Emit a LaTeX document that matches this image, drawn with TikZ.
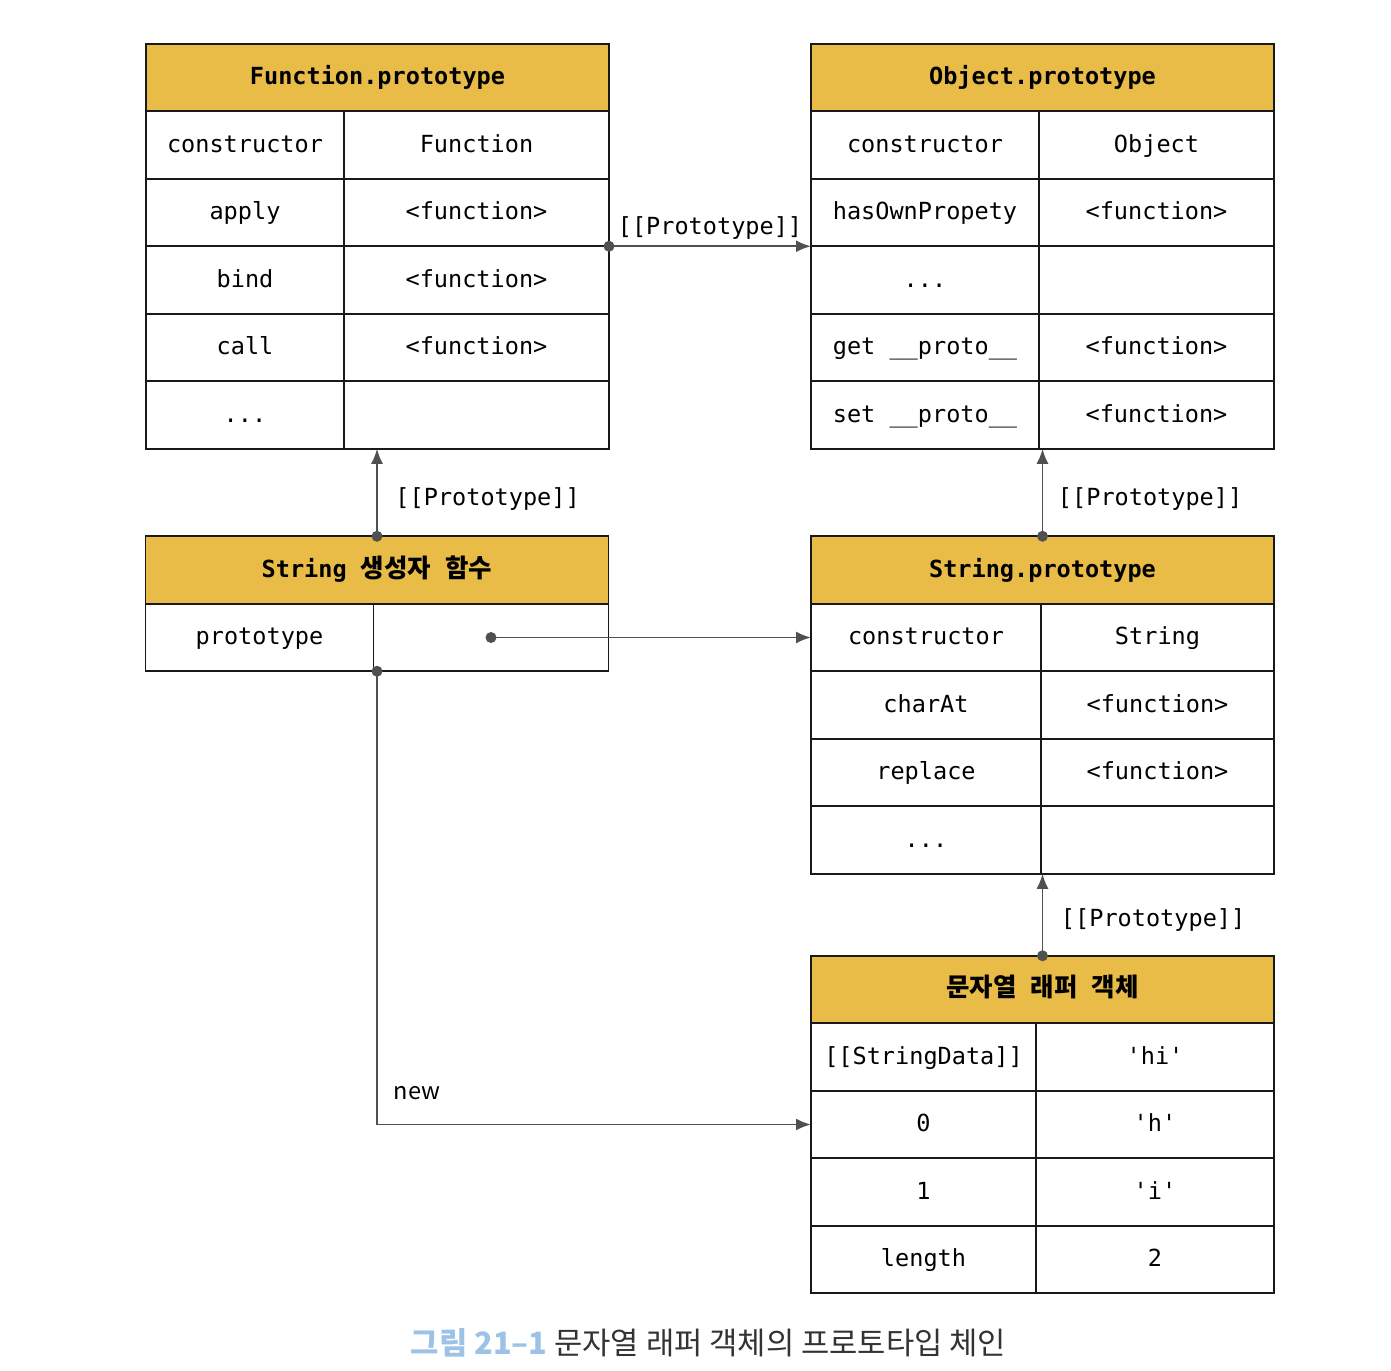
\documentclass[tikz,border=0pt]{standalone}
\usepackage{fontspec}
\setmonofont{DejaVu Sans Mono}
\newfontfamily\krfont{Noto Sans CJK KR}
\usetikzlibrary{arrows.meta, positioning}

\definecolor{hdrgold}{HTML}{E9BC48}
\definecolor{linkgray}{HTML}{505050}
\definecolor{capblue}{HTML}{9CC3E5}
\definecolor{capgray}{HTML}{333333}

\begin{document}
\begin{tikzpicture}[
  font=\ttfamily\fontsize{13.4}{16}\selectfont,
  hdr/.style = {draw=black!90, line width=1.1pt, fill=hdrgold, minimum width=9.26cm, minimum height=1.35cm, outer sep=0pt, inner sep=0pt, text height=0.9em, text depth=0.08em, font=\ttfamily\bfseries\fontsize{13.4}{16}\selectfont},
  cell/.style = {draw=black!90, line width=1.1pt, minimum width=#1, minimum height=1.35cm, outer sep=0pt, inner sep=0pt, text height=0.92em, text depth=0.08em},
  link/.style = {draw=linkgray, line width=1.1pt, -{Latex[length=3mm, width=2.4mm]}},
  dot/.style = {circle, fill=linkgray, inner sep=0pt, minimum size=2.2mm},
  tag/.style = {inner sep=2pt}
]
  \useasboundingbox (0,0) rectangle (27.82,-27.42);

  % Function.prototype
  \node[hdr] (fHdr) at (7.55,-1.55) {Function.prototype};
  \node[cell=3.96cm, anchor=north west] (fA1) at (fHdr.south west) {constructor};
  \node[cell=5.3cm, right=0pt of fA1] (fB1) {Function};
  \node[cell=3.96cm, below=0pt of fA1] (fA2) {apply};
  \node[cell=5.3cm, right=0pt of fA2] (fB2) {<function>};
  \node[cell=3.96cm, below=0pt of fA2] (fA3) {bind};
  \node[cell=5.3cm, right=0pt of fA3] (fB3) {<function>};
  \node[cell=3.96cm, below=0pt of fA3] (fA4) {call};
  \node[cell=5.3cm, right=0pt of fA4] (fB4) {<function>};
  \node[cell=3.96cm, below=0pt of fA4] (fA5) {...};
  \node[cell=5.3cm, right=0pt of fA5] (fB5) {};

  % Object.prototype
  \node[hdr] (oHdr) at (20.85,-1.55) {Object.prototype};
  \node[cell=4.56cm, anchor=north west] (oA1) at (oHdr.south west) {constructor};
  \node[cell=4.7cm, right=0pt of oA1] (oB1) {Object};
  \node[cell=4.56cm, below=0pt of oA1] (oA2) {hasOwnPropety};
  \node[cell=4.7cm, right=0pt of oA2] (oB2) {<function>};
  \node[cell=4.56cm, below=0pt of oA2] (oA3) {...};
  \node[cell=4.7cm, right=0pt of oA3] (oB3) {};
  \node[cell=4.56cm, below=0pt of oA3] (oA4) {get \_\_proto\_\_};
  \node[cell=4.7cm, right=0pt of oA4] (oB4) {<function>};
  \node[cell=4.56cm, below=0pt of oA4] (oA5) {set \_\_proto\_\_};
  \node[cell=4.7cm, right=0pt of oA5] (oB5) {<function>};

  % String constructor function
  \node[hdr] (sHdr) at (7.54,-11.4) {String {\krfont\fontsize{14.5}{16}\selectfont 생성자} {\krfont\fontsize{14.5}{16}\selectfont 함수}};
  \node[cell=4.56cm, anchor=north west] (sA1) at (sHdr.south west) {prototype};
  \node[cell=4.7cm, right=0pt of sA1] (sB1) {};

  % String.prototype
  \node[hdr] (spHdr) at (20.85,-11.4) {String.prototype};
  \node[cell=4.6cm, anchor=north west] (spA1) at (spHdr.south west) {constructor};
  \node[cell=4.66cm, right=0pt of spA1] (spB1) {String};
  \node[cell=4.6cm, below=0pt of spA1] (spA2) {charAt};
  \node[cell=4.66cm, right=0pt of spA2] (spB2) {<function>};
  \node[cell=4.6cm, below=0pt of spA2] (spA3) {replace};
  \node[cell=4.66cm, right=0pt of spA3] (spB3) {<function>};
  \node[cell=4.6cm, below=0pt of spA3] (spA4) {...};
  \node[cell=4.66cm, right=0pt of spA4] (spB4) {};

  % string wrapper object
  \node[hdr] (wHdr) at (20.85,-19.79) {{\krfont\fontsize{14.5}{16}\selectfont 문자열} {\krfont\fontsize{14.5}{16}\selectfont 래퍼} {\krfont\fontsize{14.5}{16}\selectfont 객체}};
  \node[cell=4.5cm, anchor=north west] (wA1) at (wHdr.south west) {[[StringData]]};
  \node[cell=4.76cm, right=0pt of wA1] (wB1) {\textquotesingle hi\textquotesingle};
  \node[cell=4.5cm, below=0pt of wA1] (wA2) {0};
  \node[cell=4.76cm, right=0pt of wA2] (wB2) {\textquotesingle h\textquotesingle};
  \node[cell=4.5cm, below=0pt of wA2] (wA3) {1};
  \node[cell=4.76cm, right=0pt of wA3] (wB3) {\textquotesingle i\textquotesingle};
  \node[cell=4.5cm, below=0pt of wA3] (wA4) {length};
  \node[cell=4.76cm, right=0pt of wA4] (wB4) {2};

  % [[Prototype]] links
  \node[dot] (d1) at (fB2.south east) {};
  \draw[link] (d1.center) -- node[above, tag, yshift=0.05cm] {[[Prototype]]} (oA2.south west);

  \node[dot] (d2) at (sHdr.north) {};
  \draw[link] (d2.center) -- node[right, tag, xshift=0.28cm, yshift=-0.12cm] {[[Prototype]]} (d2.center |- fB5.south);

  \node[dot] (d4) at (spHdr.north) {};
  \draw[link] (d4.center) -- node[right, tag, xshift=0.22cm, yshift=-0.12cm] {[[Prototype]]} (d4.center |- oB5.south);

  \node[dot] (d5) at (wHdr.north) {};
  \draw[link] (d5.center) -- node[right, tag, xshift=0.28cm, yshift=-0.1cm] {[[Prototype]]} (d5.center |- spB4.south);

  % prototype property
  \node[dot] (d3) at (sB1.center) {};
  \draw[link] (d3.center) -- (spA1.west);

  % new
  \node[dot] (d6) at (sHdr.north |- sA1.south) {};
  \draw[link] (d6.center) |- node[right, pos=0.465, xshift=0.2cm, font=\krfont\fontsize{13.4}{16}\selectfont] {new} (wA2.west);

  % caption
  \node (cap) at (14.17,-26.86) {\krfont\fontsize{17.5}{20}\selectfont\textcolor{capblue}{\bfseries 그림 21–1} \textcolor{capgray}{문자열 래퍼 객체의 프로토타입 체인}};
\end{tikzpicture}
\end{document}
